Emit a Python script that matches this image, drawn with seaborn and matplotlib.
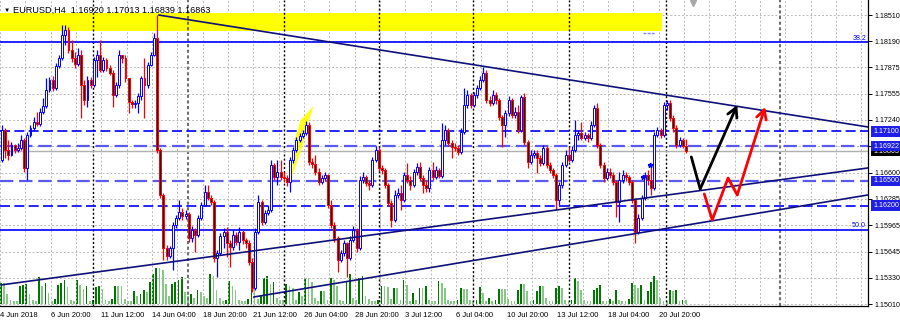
import numpy as np
import pandas as pd
import matplotlib
matplotlib.use("Agg")
import matplotlib.pyplot as plt
import matplotlib.transforms as mtransforms
from matplotlib.patches import Rectangle, Polygon
import seaborn as sns

sns.set_theme(style="white")
plt.rcParams["font.family"] = ["Liberation Sans", "DejaVu Sans"]

# ---------------- data (EURUSD, H4) ----------------
symbol_title = "EURUSD,H4  1.16920 1.17013 1.16839 1.16863"
first_open = 1.1675
closes = [
    1.1712, 1.1688, 1.1681, 1.1694, 1.1688, 1.1690, 1.1700, 1.1666, 1.1706, 1.1714,
    1.1721, 1.1719, 1.1733, 1.1741, 1.1760, 1.1772, 1.1763, 1.1789, 1.1799, 1.1827,
    1.1833, 1.1809, 1.1799, 1.1792, 1.1802, 1.1766, 1.1748, 1.1772, 1.1766, 1.1796,
    1.1802, 1.1784, 1.1796, 1.1787, 1.1781, 1.1754, 1.1766, 1.1802, 1.1799, 1.1775,
    1.1746, 1.1743, 1.1744, 1.1753, 1.1775, 1.1766, 1.1790, 1.1802, 1.1823, 1.1688,
    1.1633, 1.1569, 1.1559, 1.1569, 1.1597, 1.1605, 1.1612, 1.1608, 1.1610, 1.1581,
    1.1591, 1.1585, 1.1605, 1.1621, 1.1637, 1.1629, 1.1625, 1.1557, 1.1563, 1.1583,
    1.1588, 1.1575, 1.1570, 1.1585, 1.1576, 1.1588, 1.1579, 1.1575, 1.1552, 1.1521,
    1.1588, 1.1625, 1.1600, 1.1611, 1.1615, 1.1669, 1.1655, 1.1661, 1.1655, 1.1654,
    1.1649, 1.1675, 1.1688, 1.1700, 1.1704, 1.1708, 1.1718, 1.1673, 1.1671, 1.1661,
    1.1649, 1.1654, 1.1657, 1.1621, 1.1597, 1.1581, 1.1554, 1.1563, 1.1575, 1.1557,
    1.1579, 1.1591, 1.1569, 1.1651, 1.1655, 1.1648, 1.1645, 1.1675, 1.1688, 1.1666,
    1.1663, 1.1645, 1.1623, 1.1603, 1.1633, 1.1636, 1.1627, 1.1657, 1.1651, 1.1645,
    1.1661, 1.1667, 1.1654, 1.1645, 1.1642, 1.1663, 1.1655, 1.1663, 1.1656, 1.1700,
    1.1712, 1.1696, 1.1691, 1.1690, 1.1685, 1.1709, 1.1742, 1.1754, 1.1742, 1.1754,
    1.1763, 1.1772, 1.1781, 1.1748, 1.1744, 1.1754, 1.1748, 1.1727, 1.1718, 1.1732,
    1.1748, 1.1730, 1.1733, 1.1712, 1.1752, 1.1697, 1.1673, 1.1681, 1.1684, 1.1678,
    1.1672, 1.1690, 1.1669, 1.1663, 1.1657, 1.1627, 1.1645, 1.1669, 1.1681, 1.1675,
    1.1688, 1.1706, 1.1708, 1.1702, 1.1706, 1.1702, 1.1718, 1.1738, 1.1694, 1.1669,
    1.1654, 1.1661, 1.1657, 1.1649, 1.1625, 1.1651, 1.1657, 1.1655, 1.1649, 1.1627,
    1.1588, 1.1605, 1.1629, 1.1657, 1.1651, 1.1642, 1.1706, 1.1712, 1.1706, 1.1742,
    1.1744, 1.1726, 1.1714, 1.1694, 1.1700, 1.1692, 1.16863]
highs = [
    1.1718, 1.1714, 1.1700, 1.1697, 1.1695, 1.1696, 1.1706, 1.1702, 1.1709, 1.1718,
    1.1727, 1.1733, 1.1738, 1.1750, 1.1775, 1.1776, 1.1777, 1.1793, 1.1802, 1.1839,
    1.1839, 1.1836, 1.1821, 1.1806, 1.1811, 1.1809, 1.1772, 1.1777, 1.1776, 1.1800,
    1.1809, 1.1821, 1.1800, 1.1799, 1.1790, 1.1784, 1.1770, 1.1809, 1.1802, 1.1802,
    1.1775, 1.1748, 1.1748, 1.1756, 1.1777, 1.1799, 1.1794, 1.1806, 1.1829, 1.1851,
    1.1690, 1.1636, 1.1573, 1.1571, 1.1600, 1.1609, 1.1627, 1.1617, 1.1615, 1.1612,
    1.1596, 1.1593, 1.1609, 1.1625, 1.1645, 1.1645, 1.1633, 1.1627, 1.1567, 1.1587,
    1.1593, 1.1594, 1.1579, 1.1591, 1.1588, 1.1594, 1.1591, 1.1581, 1.1579, 1.1557,
    1.1593, 1.1633, 1.1627, 1.1615, 1.1621, 1.1675, 1.1672, 1.1675, 1.1675, 1.1661,
    1.1657, 1.1679, 1.1691, 1.1703, 1.1708, 1.1712, 1.1723, 1.1721, 1.1678, 1.1681,
    1.1666, 1.1657, 1.1661, 1.1658, 1.1627, 1.1600, 1.1583, 1.1567, 1.1579, 1.1576,
    1.1583, 1.1596, 1.1593, 1.1656, 1.1661, 1.1657, 1.1651, 1.1679, 1.1692, 1.1691,
    1.1669, 1.1666, 1.1648, 1.1627, 1.1639, 1.1642, 1.1645, 1.1661, 1.1672, 1.1656,
    1.1665, 1.1672, 1.1673, 1.1657, 1.1651, 1.1667, 1.1673, 1.1668, 1.1666, 1.1720,
    1.1718, 1.1714, 1.1700, 1.1696, 1.1694, 1.1714, 1.1763, 1.1760, 1.1756, 1.1758,
    1.1766, 1.1777, 1.1788, 1.1784, 1.1753, 1.1760, 1.1758, 1.1750, 1.1730, 1.1736,
    1.1753, 1.1750, 1.1740, 1.1742, 1.1754, 1.1756, 1.1700, 1.1688, 1.1688, 1.1688,
    1.1681, 1.1694, 1.1692, 1.1673, 1.1666, 1.1660, 1.1649, 1.1673, 1.1688, 1.1691,
    1.1692, 1.1724, 1.1712, 1.1721, 1.1709, 1.1708, 1.1723, 1.1742, 1.1744, 1.1696,
    1.1673, 1.1666, 1.1666, 1.1661, 1.1651, 1.1661, 1.1663, 1.1661, 1.1657, 1.1651,
    1.1629, 1.1610, 1.1633, 1.1661, 1.1663, 1.1672, 1.1709, 1.1715, 1.1714, 1.1746,
    1.1748, 1.1748, 1.1730, 1.1718, 1.1703, 1.1702, 1.17013]
lows = [
    1.1673, 1.1678, 1.1675, 1.1680, 1.1684, 1.1685, 1.1688, 1.1661, 1.1651, 1.1703,
    1.1712, 1.1717, 1.1717, 1.1731, 1.1738, 1.1758, 1.1759, 1.1760, 1.1787, 1.1796,
    1.1815, 1.1805, 1.1794, 1.1787, 1.1789, 1.1726, 1.1742, 1.1740, 1.1763, 1.1764,
    1.1776, 1.1782, 1.1782, 1.1783, 1.1778, 1.1740, 1.1752, 1.1763, 1.1793, 1.1770,
    1.1732, 1.1738, 1.1738, 1.1732, 1.1748, 1.1726, 1.1763, 1.1789, 1.1801, 1.1684,
    1.1629, 1.1554, 1.1554, 1.1557, 1.1542, 1.1593, 1.1603, 1.1603, 1.1604, 1.1576,
    1.1576, 1.1564, 1.1582, 1.1603, 1.1620, 1.1627, 1.1621, 1.1552, 1.1534, 1.1560,
    1.1569, 1.1558, 1.1546, 1.1567, 1.1573, 1.1567, 1.1574, 1.1569, 1.1548, 1.1516,
    1.1518, 1.1586, 1.1597, 1.1598, 1.1609, 1.1612, 1.1651, 1.1645, 1.1651, 1.1649,
    1.1644, 1.1637, 1.1672, 1.1685, 1.1697, 1.1702, 1.1706, 1.1669, 1.1666, 1.1657,
    1.1645, 1.1646, 1.1651, 1.1617, 1.1593, 1.1576, 1.1540, 1.1552, 1.1559, 1.1534,
    1.1554, 1.1576, 1.1564, 1.1567, 1.1648, 1.1644, 1.1639, 1.1643, 1.1673, 1.1662,
    1.1658, 1.1642, 1.1620, 1.1594, 1.1600, 1.1629, 1.1615, 1.1625, 1.1648, 1.1639,
    1.1643, 1.1657, 1.1650, 1.1636, 1.1637, 1.1637, 1.1651, 1.1652, 1.1654, 1.1654,
    1.1694, 1.1692, 1.1678, 1.1686, 1.1681, 1.1683, 1.1707, 1.1738, 1.1738, 1.1740,
    1.1750, 1.1760, 1.1770, 1.1744, 1.1741, 1.1742, 1.1743, 1.1724, 1.1691, 1.1703,
    1.1729, 1.1726, 1.1726, 1.1708, 1.1709, 1.1694, 1.1666, 1.1671, 1.1678, 1.1660,
    1.1668, 1.1669, 1.1666, 1.1660, 1.1654, 1.1615, 1.1621, 1.1642, 1.1667, 1.1673,
    1.1673, 1.1685, 1.1700, 1.1700, 1.1700, 1.1697, 1.1700, 1.1715, 1.1690, 1.1666,
    1.1649, 1.1651, 1.1654, 1.1645, 1.1606, 1.1600, 1.1648, 1.1650, 1.1645, 1.1623,
    1.1575, 1.1586, 1.1603, 1.1627, 1.1645, 1.1633, 1.1639, 1.1703, 1.1702, 1.1703,
    1.1736, 1.1723, 1.1709, 1.1690, 1.1691, 1.1690, 1.16839]
volumes = [
    21, 21, 10, 4, 3, 3, 18, 19, 20, 10,
    4, 3, 27, 18, 21, 11, 3, 5, 19, 21,
    24, 17, 4, 3, 24, 19, 15, 18, 3, 4,
    17, 18, 15, 4, 3, 5, 18, 18, 18, 5,
    3, 3, 13, 8, 10, 14, 12, 22, 30, 36,
    36, 34, 20, 8, 20, 22, 24, 27, 12, 8,
    10, 6, 14, 12, 8, 6, 30, 28, 14, 6,
    3, 4, 23, 18, 14, 4, 3, 3, 5, 24,
    22, 5, 8, 26, 28, 20, 22, 6, 4, 4,
    20, 18, 16, 4, 12, 8, 26, 26, 22, 6,
    3, 13, 13, 4, 26, 24, 18, 4, 3, 23,
    30, 6, 4, 26, 28, 8, 5, 3, 3, 4,
    18, 18, 17, 5, 16, 16, 4, 24, 19, 3,
    11, 4, 16, 16, 18, 4, 3, 3, 23, 21,
    16, 4, 3, 3, 4, 16, 15, 15, 4, 3,
    4, 17, 11, 3, 6, 3, 4, 15, 15, 15,
    5, 3, 3, 14, 20, 20, 13, 3, 4, 13,
    18, 18, 6, 3, 3, 16, 18, 16, 4, 3,
    4, 26, 23, 14, 4, 3, 3, 14, 16, 19,
    3, 3, 5, 3, 14, 4, 3, 3, 5, 21,
    19, 16, 19, 4, 13, 22, 28, 24, 6, 3,
    3, 14, 13, 14, 3, 4, 4]

date_labels = ["4 Jun 2018", "6 Jun 20:00", "11 Jun 12:00", "14 Jun 04:00",
               "18 Jun 20:00", "21 Jun 12:00", "26 Jun 04:00", "28 Jun 20:00",
               "3 Jul 12:00", "6 Jul 04:00", "10 Jul 20:00", "13 Jul 12:00",
               "18 Jul 04:00", "20 Jul 20:00"]
price_ticks = [1.18510, 1.18190, 1.17875, 1.17555, 1.17240, 1.16920,
               1.16600, 1.16285, 1.15965, 1.15645, 1.15330, 1.15010]
hidden_tick = 1.16920          # covered by the 1.16922 level label
h_levels = [1.17100, 1.16922, 1.16500, 1.16200]
current_price = 1.16863
fib_levels = [1.1818, 1.1591]
fib_names = ["38.2", "50.0"]
week_breaks = [28.7, 89.0, 119.2, 148.9, 179.2, 209.8]
marked_breaks = [58.7, 245.7]
zone_bars = [-5.0, 208.5]
zone_prices = [1.18317, 1.18535]
resistance = ([49.5, 273.5], [1.1851, 1.17154])
support_hi = ([-0.3, 273.5], [1.15241, 1.16658])
support_lo = ([79.5, 273.5], [1.15095, 1.16331])
path_black = ([217.7, 220.5, 232.2], [1.16791, 1.16403, 1.17420])
path_red = ([221.8, 224.3, 229.3, 232.2, 241.0],
            [1.16343, 1.16028, 1.16536, 1.16331, 1.17396])
wedge = ([91.5, 92.4, 94.3, 98.4, 96.2, 95.0],
         [1.16536, 1.16997, 1.17239, 1.17408, 1.17142, 1.16936])

# ---------------- figure ----------------
W, H = 900, 324
fig = plt.figure(figsize=(W / 100, H / 100), dpi=100)
fig.patch.set_facecolor("white")
rect = [0, 18 / H, 868 / W, 306 / H]
ax_v = fig.add_axes(rect)
ax = fig.add_axes(rect)
ax.patch.set_alpha(0)
XL = (-0.315, 273.5)
YL = (1.14986, 1.18692)
FS = 5.15

n = len(closes)
idx = np.arange(n)
c = np.array(closes)
o = np.r_[first_open, c[:-1]]
hi = np.array(highs)
lo = np.array(lows)
up = c >= o

# volume (seaborn)
vol = np.array(volumes)
tone = np.where(np.r_[True, vol[1:] > vol[:-1]], "rise", "fall")
vol_df = pd.DataFrame({"bar": idx, "volume": vol, "tone": tone})
sns.barplot(data=vol_df, x="bar", y="volume", hue="tone",
            palette={"rise": "#007800", "fall": "#86c986"},
            native_scale=True, dodge=False, width=0.55, errorbar=None,
            legend=False, saturation=1, linewidth=0, ax=ax_v)
ax_v.set_xlim(*XL)
ax_v.set_ylim(-2, 304)
ax_v.axis("off")

ax.set_xlim(*XL)
ax.set_ylim(*YL)

# grid
grid_x = np.arange(-0.63, XL[1], 8)
ax.vlines(grid_x, YL[0], YL[1], colors="#b9b9b9", linestyles=(0, (2, 2)), lw=0.7, zorder=0.5)
ax.hlines(price_ticks, XL[0], XL[1], colors="#b9b9b9", linestyles=(0, (2, 2)), lw=0.7, zorder=0.5)

# yellow zone + small marker under it
ax.add_patch(Rectangle((zone_bars[0], zone_prices[0]), zone_bars[1] - zone_bars[0],
                       zone_prices[1] - zone_prices[0], fc="#ffff00", ec="none", zorder=1))
ax.plot([202.5, 206.3], [1.18290, 1.18290], color="#8080ff", lw=1.0, ls=(0, (2, 1)), zorder=1.2)

# period separators
ax.vlines(week_breaks, YL[0], YL[1], colors="black", linestyles=(0, (1.5, 1.5)), lw=1.0, zorder=1.5)
ax.vlines(marked_breaks, YL[0], YL[1], colors="#707070", linestyles=(0, (1.5, 1.2)), lw=1.5, zorder=1.5)

# horizontal levels
ax.axhline(current_price, color="#b0b0b0", lw=1.0, zorder=1.6)
for p, col, lw in zip(h_levels, ["#0000ff", "#5a5af0", "#5a5af0", "#0000ff"], [1.2, 1.6, 1.6, 1.2]):
    ax.axhline(p, color=col, lw=lw, ls=(0, (6, 2.6)), zorder=1.8)
for p, name in zip(fib_levels, fib_names):
    ax.axhline(p, color="#0000ff", lw=1.2, zorder=1.8)
    ax.text(XL[1] - 0.6, p + 0.00008, name, ha="right", va="bottom", fontsize=FS, color="#0000ff", zorder=6)

# candles
edge = np.where(up, "#0000ff", "#ff0000")
face = np.where(up, "#ffffff", "#200000")
ax.vlines(idx, lo, hi, colors=edge, lw=0.9, zorder=3)
ax.bar(idx, np.abs(c - o), bottom=np.minimum(c, o), width=0.62, color=face,
       edgecolor=edge, linewidth=0.7, zorder=3.1)

# yellow wedge
ax.add_patch(Polygon(np.column_stack(wedge), closed=True, fc="#ffff00", ec="none", alpha=0.9, zorder=2.5))

# trend lines
for xs, ys in (resistance, support_hi, support_lo):
    ax.plot(xs, ys, color="#10107a", lw=1.2, zorder=4)

# arrow paths
for (xs, ys), col in ((path_black, "black"), (path_red, "#ff0000")):
    ax.plot(xs[:-1], ys[:-1], color=col, lw=2.0, solid_capstyle="round", zorder=5)
    ax.annotate("", xy=(xs[-1], ys[-1]), xytext=(xs[-2], ys[-2]),
                arrowprops=dict(arrowstyle="->,head_length=0.55,head_width=0.3",
                                color=col, lw=2.0, shrinkA=0, shrinkB=0), zorder=5)

# small markers
ax.plot([202.5, 204.5], [1.1655, 1.1669], ls="none", marker="*", ms=3.5, color="#0000ff", zorder=5)
ax.plot([218.3], [1.18656], ls="none", marker="v", ms=5, color="#a8a8a8", zorder=6, clip_on=False)

# axes styling
for s in ("left", "top"):
    ax.spines[s].set_visible(False)
for s in ("right", "bottom"):
    ax.spines[s].set_visible(True)
    ax.spines[s].set_color("black")
    ax.spines[s].set_linewidth(0.9)
ax.yaxis.tick_right()
ax.set_yticks(price_ticks)
ax.set_yticklabels(["" if p == hidden_tick else f"{p:.5f}" for p in price_ticks])
ax.set_xticks([16 * k - 0.63 for k in range(len(date_labels))])
ax.set_xticklabels(date_labels)
for lab in ax.get_xticklabels():
    lab.set_ha("left")
ax.tick_params(axis="both", labelsize=FS, colors="black", length=3, width=0.7, pad=1.5)
ax.tick_params(axis="x", labelsize=5.5)
ax.tick_params(axis="y", pad=2)
ax.grid(False)

# price label boxes on the right
trans = mtransforms.offset_copy(mtransforms.blended_transform_factory(ax.transAxes, ax.transData),
                                fig=fig, x=5, y=0, units="dots")
ax.text(1.0, current_price, f"{current_price:.5f}", transform=trans, ha="left", va="center",
        fontsize=FS, color="white", bbox=dict(boxstyle="square,pad=0.25", fc="black", ec="none"),
        clip_on=False, zorder=7)
for p in h_levels:
    ax.text(1.0, p, f"{p:.5f}", transform=trans, ha="left", va="center", fontsize=FS,
            color="white", bbox=dict(boxstyle="square,pad=0.25", fc="#1f1fe6", ec="none"),
            clip_on=False, zorder=8)

# title
fig.text(4 / W, 1 - 10 / H, "\u25BC", fontsize=4.5, va="center", ha="left", color="black")
fig.text(13 / W, 1 - 10 / H, symbol_title, fontsize=6.6, va="center", ha="left", color="black")

fig.savefig("out.png", dpi=100, facecolor="white")
